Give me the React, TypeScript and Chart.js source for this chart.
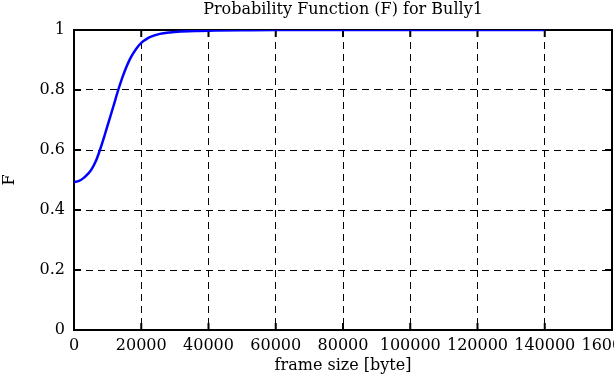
import React, { useEffect, useRef } from "react";
import { Chart, registerables } from "chart.js";

Chart.register(...registerables);

const frameSize = [
  0, 1500, 3000, 4200, 5250, 6500, 7715, 9000, 10180, 11700, 13150, 14400,
  15640, 16600, 17600, 18800, 20090, 21300, 22550, 25520, 28500, 32000, 36000,
  42000, 50000, 60000, 80000, 100000, 120000, 140000,
];
const probF = [
  0.493, 0.497, 0.508, 0.521, 0.536, 0.563, 0.6, 0.645, 0.689, 0.745, 0.8,
  0.842, 0.878, 0.902, 0.922, 0.942, 0.958, 0.968, 0.976, 0.987, 0.992, 0.995,
  0.997, 0.998, 0.999, 1, 1, 1, 1, 1,
];
const xTickLabels = ["0", "20000", "40000", "60000", "80000", "100000", "120000", "140000", "160000"];
const yTickLabels = ["0", "0.2", "0.4", "0.6", "0.8", "1"];
const chartTitle = "Probability Function (F) for Bully1";
const xAxisTitle = "frame size [byte]";
const yAxisTitle = "F";

const FONT = "'DejaVu Serif', serif";

const framePlugin = {
  id: "frameTicks",
  beforeDatasetsDraw(chart: any) {
    const { ctx, chartArea: a, scales } = chart;
    ctx.save();
    ctx.setLineDash([]);
    ctx.strokeStyle = "#000";
    ctx.lineWidth = 2;
    ctx.strokeRect(a.left, a.top, a.right - a.left, a.bottom - a.top);
    const len = 7;
    ctx.beginPath();
    scales.x.ticks.forEach((t: any) => {
      const x = scales.x.getPixelForValue(t.value);
      ctx.moveTo(x, a.bottom);
      ctx.lineTo(x, a.bottom - len);
      ctx.moveTo(x, a.top);
      ctx.lineTo(x, a.top + len);
    });
    scales.y.ticks.forEach((t: any) => {
      const y = scales.y.getPixelForValue(t.value);
      ctx.moveTo(a.left, y);
      ctx.lineTo(a.left + len, y);
      ctx.moveTo(a.right, y);
      ctx.lineTo(a.right - len, y);
    });
    ctx.stroke();
    ctx.restore();
  },
};

export default function App() {
  const ref = useRef<HTMLCanvasElement | null>(null);
  useEffect(() => {
    if (!ref.current) return;
    const chart = new Chart(ref.current, {
      type: "line",
      data: {
        datasets: [
          {
            data: frameSize.map((x, i) => ({ x, y: probF[i] })),
            borderColor: "#0000ff",
            borderWidth: 2.5,
            pointRadius: 0,
            cubicInterpolationMode: "monotone",
            fill: false,
          },
        ],
      },
      options: {
        animation: false,
        responsive: false,
        devicePixelRatio: 1,
        layout: { padding: { left: 0, right: 68, top: 0, bottom: 0 } },
        plugins: {
          legend: { display: false },
          tooltip: { enabled: false },
          title: {
            display: true,
            text: chartTitle,
            fullSize: false,
            color: "#000",
            font: { family: FONT, size: 16, weight: "normal" },
            padding: { top: 0, bottom: 10.8 },
          },
        },
        scales: {
          x: {
            type: "linear",
            min: 0,
            max: 160000,
            afterFit: (s: any) => {
              s.height = 55;
            },
            ticks: {
              stepSize: 20000,
              autoSkip: false,
              maxRotation: 0,
              padding: 6,
              color: "#000",
              font: { family: FONT, size: 16 },
              callback: (_v: any, i: number) => xTickLabels[i],
            },
            grid: { color: "#000", lineWidth: 1, drawTicks: false, borderDash: [7, 5] } as any,
            border: { display: false, dash: [7, 5] },
            title: {
              display: true,
              text: xAxisTitle,
              color: "#000",
              font: { family: FONT, size: 16 },
              padding: { top: 0, bottom: 10 },
            },
          },
          y: {
            min: 0,
            max: 1,
            afterFit: (s: any) => {
              s.width = 74;
            },
            ticks: {
              stepSize: 0.2,
              padding: 9,
              color: "#000",
              font: { family: FONT, size: 16 },
              callback: (_v: any, i: number) => yTickLabels[i],
            },
            grid: { color: "#000", lineWidth: 1, drawTicks: false, borderDash: [7, 5] } as any,
            border: { display: false, dash: [7, 5] },
            title: {
              display: true,
              text: yAxisTitle,
              color: "#000",
              font: { family: FONT, size: 16 },
              padding: { top: 0, bottom: 0 },
            },
          },
        },
      } as any,
      plugins: [framePlugin],
    });
    return () => chart.destroy();
  }, []);
  return (
    <div
      style={{
        position: "absolute",
        left: 0,
        top: 0,
        width: 614,
        height: 385,
        overflow: "hidden",
        background: "#fff",
      }}
    >
      <canvas ref={ref} width={680} height={385} style={{ display: "block" }} />
    </div>
  );
}
